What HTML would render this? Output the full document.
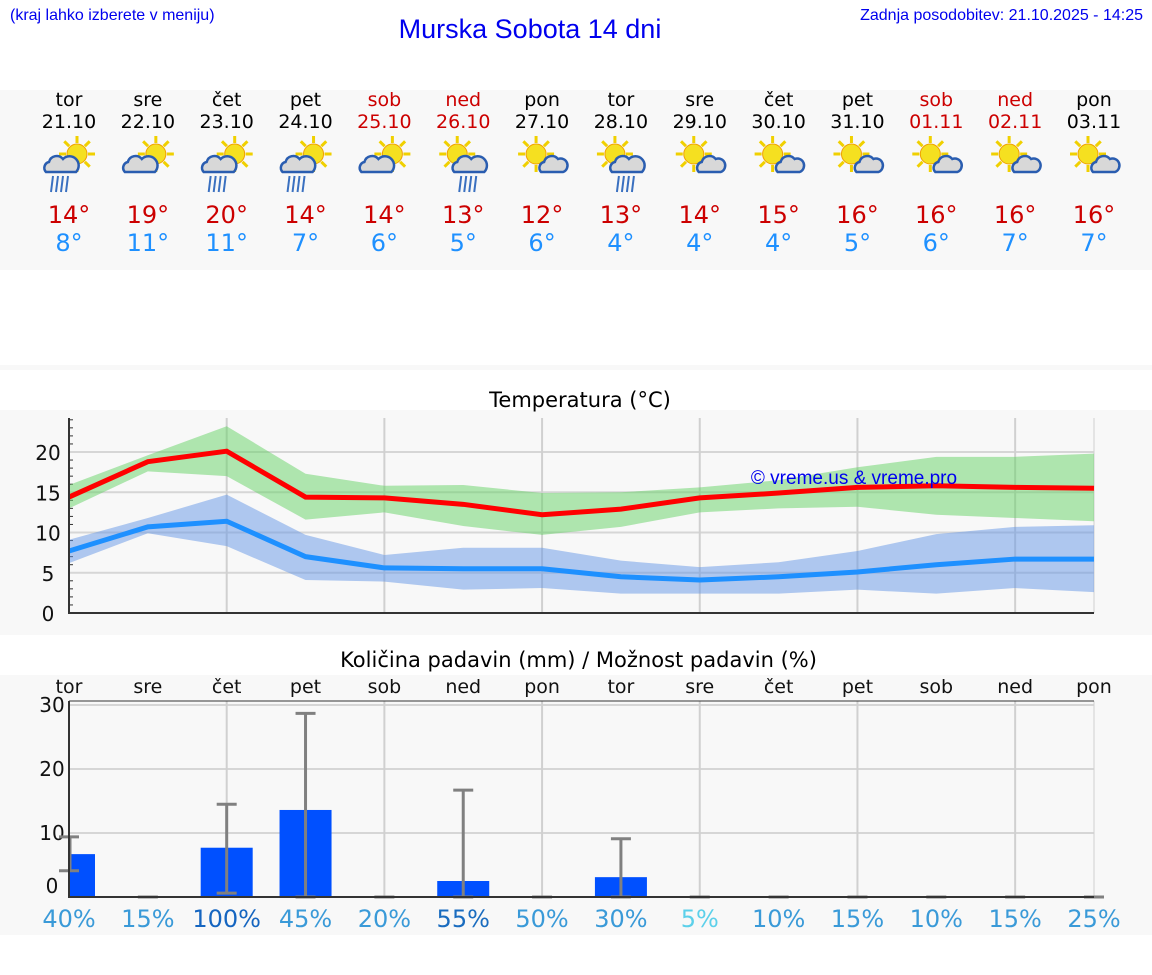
<!DOCTYPE html>
<html><head><meta charset="utf-8"><style>
body{margin:0;width:1152px;height:975px;background:#fff;font-family:"DejaVu Sans","Liberation Sans",sans-serif;position:relative;overflow:hidden}
.abs{position:absolute}
.band{position:absolute;left:0;width:1152px;background:#f8f8f8}
.col{position:absolute;width:80px;text-align:center}
</style></head><body>
<div class="abs" style="left:10px;top:7px;font-size:16px;color:#0000ee;font-family:'Liberation Sans',sans-serif">(kraj lahko izberete v meniju)</div>
<div class="abs" style="left:0;width:1060px;top:14px;text-align:center;font-size:27px;color:#0000ee;font-family:'Liberation Sans',sans-serif">Murska Sobota 14 dni</div>
<div class="abs" style="right:9px;top:7px;font-size:16px;color:#0000ee;font-family:'Liberation Sans',sans-serif">Zadnja posodobitev: 21.10.2025 - 14:25</div>
<div class="band" style="top:90px;height:180px"></div>
<div class="band" style="top:365px;height:5px"></div>
<div class="band" style="top:410px;height:225px"></div>
<div class="band" style="top:675px;height:260px"></div>
<div class="abs" style="left:0;width:1160px;top:388px;text-align:center;font-size:21px">Temperatura (°C)</div>
<div class="abs" style="left:0;width:1157px;top:648px;text-align:center;font-size:21px">Količina padavin (mm) / Možnost padavin (%)</div>
<div id="days"></div>
<svg id="chart" class="abs" style="left:0;top:0" width="1152" height="975"></svg>
<script>
const days=["tor","sre","čet","pet","sob","ned","pon","tor","sre","čet","pet","sob","ned","pon"];
const dates=["21.10","22.10","23.10","24.10","25.10","26.10","27.10","28.10","29.10","30.10","31.10","01.11","02.11","03.11"];
const icons=[0,1,0,0,1,2,3,2,3,3,3,3,3,3];
const tmax=[14,19,20,14,14,13,12,13,14,15,16,16,16,16];
const tmin=[8,11,11,7,6,5,6,4,4,4,5,6,7,7];
const maxLine=[14.4,18.8,20.1,14.4,14.3,13.5,12.2,12.9,14.3,14.9,15.6,15.8,15.6,15.5];
const maxHi=[15.9,19.6,23.2,17.3,15.8,15.9,14.9,15.0,15.6,16.5,18.1,19.4,19.4,19.8];
const maxLo=[13.0,17.6,17.0,11.6,12.5,10.8,9.7,10.7,12.5,13.0,13.2,12.2,11.8,11.4];
const minLine=[7.7,10.7,11.4,7.0,5.6,5.5,5.5,4.5,4.1,4.5,5.1,6.0,6.7,6.7];
const minHi=[9.1,11.8,14.7,9.7,7.2,8.1,8.1,6.5,5.7,6.3,7.7,9.8,10.7,10.9];
const minLo=[6.2,9.9,8.3,4.1,3.9,2.9,3.1,2.4,2.4,2.4,2.9,2.4,3.1,2.6];
const precip=[6.7,0,7.7,13.6,0,2.5,0,3.1,0,0,0,0,0,0];
const precipHi=[9.4,0,14.5,28.7,0,16.7,0,9.1,0,0,0,0,0,0];
const precipLo=[4.1,0,0.6,0,0,0,0,0,0,0,0,0,0,0];
const chance=[40,15,100,45,20,55,50,30,5,10,15,10,15,25];
const tTicks=[0,5,10,15,20];
const pTicks=[0,10,20,30];

const NS="http://www.w3.org/2000/svg";
const svg=document.getElementById('chart');
const X=i=>69+i*(1094-69)/13;
const YT=v=>613-v*8.05;
const YP=v=>897-v*6.4;
function el(tag,attrs,parent){const e=document.createElementNS(NS,tag);for(const k in attrs)e.setAttribute(k,attrs[k]);(parent||svg).appendChild(e);return e;}
function txt(s,x,y,size,fill,anchor){const t=el('text',{x:x,y:y,'font-size':size,fill:fill,'text-anchor':anchor||'middle','font-family':'DejaVu Sans, Liberation Sans, sans-serif'});t.textContent=s;return t;}

const dc=document.getElementById('days');
days.forEach((d,i)=>{
  const we=(i==4||i==5||i==11||i==12);
  const c=document.createElement('div');c.className='col';c.style.left=(X(i)-40)+'px';c.style.top='89px';
  
  
  c.innerHTML='<div style="font-size:19px;line-height:22px;color:'+(we?'#cc0000':'#000')+'">'+d+'</div><div style="font-size:19px;line-height:22px;color:'+(we?'#cc0000':'#000')+'">'+dates[i]+'</div>'+
  '<div style="height:68px"></div><div style="font-size:24px;line-height:28px;color:#cc0000">'+tmax[i]+'°</div><div style="font-size:24px;line-height:28px;color:#1e90ff">'+tmin[i]+'°</div>';
  dc.appendChild(c);
  const g=el('g',{transform:'translate('+X(i)+',160)'});
  
  
  const sx=icons[i]>=2?-6:8, sy=-6;
  for(let k=0;k<8;k++){const a=k*Math.PI/4;el('line',{x1:sx+Math.cos(a)*11,y1:sy+Math.sin(a)*11,x2:sx+Math.cos(a)*18,y2:sy+Math.sin(a)*18,stroke:'#f0d000','stroke-width':3},g);}
  el('circle',{cx:sx,cy:sy,r:10,fill:'#f5e020',stroke:'#f0a000','stroke-width':1},g);
  let cx=icons[i]<2?-8:(icons[i]==2?6:10), cw=icons[i]==3?11:15;
  el('path',{d:'M'+(cx-cw)+',12 a6,6 0 0 1 3,-10 a8,8 0 0 1 14,-3 a6,6 0 0 1 '+(cw*2-17)+',13 z',fill:'#d8d8d8',stroke:'#2a5db0','stroke-width':2.5},g);
  if(icons[i]==0||icons[i]==2){for(let k=0;k<4;k++)el('line',{x1:cx-8+k*5,y1:16,x2:cx-10+k*5,y2:32,stroke:'#3a70c0','stroke-width':2},g);}
});

for(let v=1;v<=24;v++)el('line',{x1:69,y1:YT(v),x2:v%5==0?74:73,y2:YT(v),stroke:'#333','stroke-width':1});
tTicks.forEach(v=>{if(v>0)el('line',{x1:69,y1:YT(v),x2:1094,y2:YT(v),stroke:'#d6d6d6','stroke-width':2});txt(String(v),48,YT(v)+8,20,'#111','middle');});
for(let i=2;i<13;i+=2)el('line',{x1:X(i),y1:418,x2:X(i),y2:613,stroke:'#d0d0d0','stroke-width':2});
el('line',{x1:1094,y1:418,x2:1094,y2:613,stroke:'#d0d0d0','stroke-width':1});
function band(hi,lo,fill,name){let d='M';hi.forEach((v,i)=>d+=X(i)+','+YT(v)+' L');for(let i=lo.length-1;i>=0;i--)d+=X(i)+','+YT(lo[i])+(i?' L':' Z');const p=el('path',{d:d,fill:fill});}
function line(vals,col,name){const p=el('polyline',{points:vals.map((v,i)=>X(i)+','+YT(v)).join(' '),fill:'none',stroke:col,'stroke-width':5,'stroke-linejoin':'miter'});}
band(maxHi,maxLo,'rgba(100,210,100,0.5)','max-temp-range');
band(minHi,minLo,'rgba(100,150,230,0.5)','min-temp-range');
line(maxLine,'#ff0000','max-temp-line');
line(minLine,'#1e90ff','min-temp-line');
el('line',{x1:69,y1:418,x2:69,y2:614,stroke:'#333','stroke-width':2});
el('line',{x1:68,y1:613,x2:1094,y2:613,stroke:'#333','stroke-width':2});
const wm=txt('© vreme.us & vreme.pro',854,484,19,'#0000ee');wm.setAttribute('font-family','Liberation Sans, sans-serif');

pTicks.forEach(v=>{if(v>0)el('line',{x1:69,y1:YP(v),x2:1094,y2:YP(v),stroke:'#d6d6d6','stroke-width':2});txt(String(v),52,v==0?YP(v)-4:YP(v)+7,20,'#111','middle');});
for(let i=2;i<13;i+=2)el('line',{x1:X(i),y1:701,x2:X(i),y2:897,stroke:'#d0d0d0','stroke-width':2});
el('line',{x1:1094,y1:701,x2:1094,y2:897,stroke:'#d0d0d0','stroke-width':1});
days.forEach((d,i)=>{
  txt(d,X(i),693,19,'#111');
  if(precip[i]>0){const x0=Math.max(69,X(i)-26),x1=X(i)+26;const r=el('rect',{x:x0,y:YP(precip[i]),width:x1-x0,height:YP(0)-YP(precip[i]),fill:'#0050ff'});}
  const ex=Math.max(70,X(i));
  if(precipHi[i]>0){el('line',{x1:ex,y1:YP(precipHi[i]),x2:ex,y2:YP(precipLo[i]),stroke:'#808080','stroke-width':3});}
  el('line',{x1:X(i)-10,y1:YP(precipHi[i]),x2:X(i)+10,y2:YP(precipHi[i]),stroke:'#808080','stroke-width':3});
  if(precipHi[i]>0)el('line',{x1:X(i)-10,y1:YP(precipLo[i]),x2:X(i)+10,y2:YP(precipLo[i]),stroke:'#808080','stroke-width':3});
  const c=chance[i];const col=c>=100?'#1565c0':(c>=55?'#1a6cbf':(c<=5?'#5cd0ea':'#3a9ad8'));
  const t=txt(c+'%',X(i),927,24,col);
});
el('line',{x1:69,y1:701,x2:1094,y2:701,stroke:'#333','stroke-width':1});
el('line',{x1:69,y1:701,x2:69,y2:898,stroke:'#333','stroke-width':2});
el('line',{x1:68,y1:897,x2:1094,y2:897,stroke:'#333','stroke-width':2});
</script>
</body></html>
